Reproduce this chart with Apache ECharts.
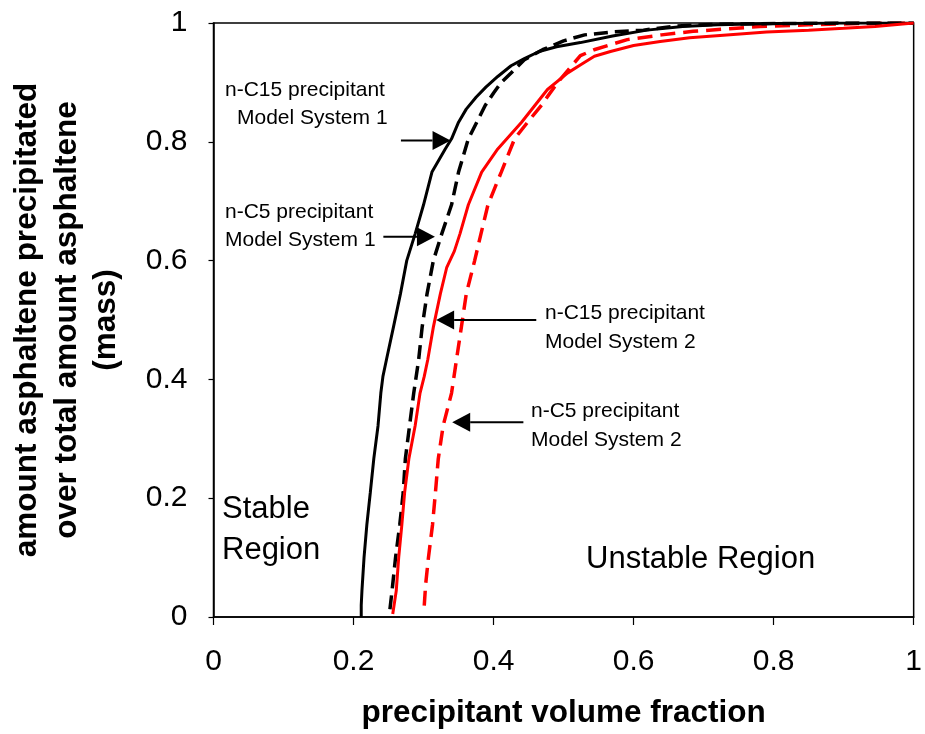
<!DOCTYPE html>
<html>
<head>
<meta charset="utf-8">
<script src="https://cdn.jsdelivr.net/npm/echarts@6/dist/echarts.min.js"></script>
<style>
  html, body { margin: 0; padding: 0; background: #fff; }
  #chart { width: 925px; height: 734px; }
</style>
</head>
<body>
<div id="chart"></div>
<script>
// Asphaltene precipitation curves: fraction precipitated vs. precipitant volume fraction

// n-C15 precipitant, Model System 1 (black solid)
const c15ms1X = [0.211, 0.211, 0.212, 0.215, 0.219, 0.224, 0.229, 0.235, 0.239, 0.242, 0.247, 0.257, 0.267, 0.276, 0.288, 0.300, 0.312, 0.331, 0.340, 0.350, 0.361, 0.375, 0.389, 0.406, 0.425, 0.444, 0.465, 0.490, 0.524, 0.570, 0.619, 0.670, 0.720, 0.800, 0.900, 1.000];
const c15ms1Y = [0.000, 0.020, 0.044, 0.100, 0.155, 0.210, 0.267, 0.322, 0.377, 0.405, 0.433, 0.488, 0.544, 0.600, 0.645, 0.694, 0.749, 0.788, 0.805, 0.833, 0.855, 0.875, 0.892, 0.910, 0.928, 0.940, 0.952, 0.960, 0.967, 0.978, 0.988, 0.994, 0.997, 0.999, 1.000, 1.000];

// n-C5 precipitant, Model System 1 (black dashed)
const c5ms1X = [0.252, 0.255, 0.260, 0.266, 0.271, 0.274, 0.280, 0.286, 0.293, 0.298, 0.305, 0.314, 0.326, 0.340, 0.350, 0.364, 0.376, 0.388, 0.400, 0.411, 0.425, 0.444, 0.470, 0.500, 0.530, 0.570, 0.614, 0.660, 0.720, 0.800, 0.900, 1.000];
const c5ms1Y = [0.013, 0.044, 0.100, 0.155, 0.210, 0.266, 0.322, 0.377, 0.433, 0.488, 0.544, 0.600, 0.645, 0.694, 0.749, 0.805, 0.833, 0.861, 0.882, 0.900, 0.916, 0.938, 0.955, 0.970, 0.980, 0.985, 0.988, 0.995, 0.998, 0.999, 1.000, 1.000];

// n-C15 precipitant, Model System 2 (red solid)
const c15ms2X = [0.256, 0.261, 0.2645, 0.269, 0.273, 0.279, 0.288, 0.295, 0.301, 0.306, 0.314, 0.324, 0.333, 0.344, 0.352, 0.364, 0.383, 0.406, 0.440, 0.477, 0.506, 0.525, 0.544, 0.567, 0.600, 0.638, 0.680, 0.733, 0.790, 0.850, 0.900, 0.945, 1.000];
const c15ms2Y = [0.005, 0.044, 0.100, 0.155, 0.210, 0.266, 0.322, 0.377, 0.405, 0.433, 0.488, 0.544, 0.588, 0.616, 0.645, 0.694, 0.749, 0.788, 0.833, 0.888, 0.916, 0.930, 0.944, 0.952, 0.962, 0.969, 0.975, 0.980, 0.985, 0.988, 0.991, 0.994, 1.000];

// n-C5 precipitant, Model System 2 (red dashed)
const c5ms2X = [0.301, 0.303, 0.307, 0.3128, 0.317, 0.321, 0.328, 0.340, 0.347, 0.354, 0.361, 0.373, 0.382, 0.392, 0.411, 0.430, 0.450, 0.468, 0.4915, 0.524, 0.5435, 0.591, 0.640, 0.685, 0.780, 0.850, 0.920, 1.000];
const c5ms2Y = [0.019, 0.055, 0.100, 0.155, 0.210, 0.266, 0.322, 0.377, 0.433, 0.488, 0.544, 0.600, 0.645, 0.694, 0.749, 0.805, 0.835, 0.861, 0.900, 0.945, 0.955, 0.972, 0.980, 0.986, 0.994, 0.997, 0.999, 1.000];

// Axis ticks
const xTicks = [0, 0.2, 0.4, 0.6, 0.8, 1];
const yTicks = [0, 0.2, 0.4, 0.6, 0.8, 1];

// Arrow annotations: [tail x, tail y, tip x, tip y] in data units
const arrowC15ms1 = [0.2677, 0.802, 0.3386, 0.802];
const arrowC5ms1 = [0.2426, 0.640, 0.3163, 0.640];
const arrowC15ms2 = [0.4610, 0.500, 0.3180, 0.500];
const arrowC5ms2 = [0.4426, 0.328, 0.3409, 0.328];

const zip = (xs, ys) => xs.map((x, i) => [x, ys[i]]);

const chart = echarts.init(document.getElementById('chart'), null, { renderer: 'canvas' });

const FONT = "'Liberation Sans', Arial, Helvetica, sans-serif";
const tickFmt = v => String(Math.round(v * 10) / 10);

chart.setOption({
  animation: false,
  backgroundColor: '#fff',
  grid: {
    left: 213, right: 7, top: 23, bottom: 111,
    show: true, borderColor: '#000', borderWidth: 1.5, backgroundColor: 'transparent'
  },
  xAxis: {
    type: 'value',
    min: xTicks[0], max: xTicks[xTicks.length - 1], interval: 0.2,
    axisLine: { show: true, lineStyle: { color: '#000', width: 1.5 } },
    axisTick: { show: true, length: 8, lineStyle: { color: '#000', width: 1.2 } },
    splitLine: { show: false },
    axisLabel: { color: '#000', fontSize: 30, fontFamily: FONT, margin: 30, formatter: tickFmt },
    name: 'precipitant volume fraction',
    nameLocation: 'middle',
    nameGap: 80,
    nameTextStyle: { color: '#000', fontSize: 31.5, fontWeight: 'bold', fontFamily: FONT }
  },
  yAxis: {
    type: 'value',
    min: yTicks[0], max: yTicks[yTicks.length - 1], interval: 0.2,
    axisLine: { show: true, lineStyle: { color: '#000', width: 1.5 } },
    axisTick: { show: true, length: 5, lineStyle: { color: '#000', width: 1.2 } },
    splitLine: { show: false },
    axisLabel: { color: '#000', fontSize: 30, fontFamily: FONT, margin: 26, formatter: tickFmt },
    name: 'amount asphaltene precipitated\nover total amount asphaltene\n(mass)',
    nameLocation: 'middle',
    nameRotate: 90,
    nameGap: 87,
    nameTextStyle: { color: '#000', fontSize: 31.5, fontWeight: 'bold', fontFamily: FONT, lineHeight: 39.5, align: 'center' }
  },
  series: [
    { name: 'n-C15 Model System 1', type: 'line', data: zip(c15ms1X, c15ms1Y), showSymbol: false,
      lineStyle: { color: '#000', width: 3, type: 'solid' }, z: 4 },
    { name: 'n-C5 Model System 1', type: 'line', data: zip(c5ms1X, c5ms1Y), showSymbol: false,
      lineStyle: { color: '#000', width: 3.5, type: [14, 7] }, z: 3 },
    { name: 'n-C15 Model System 2', type: 'line', data: zip(c15ms2X, c15ms2Y), showSymbol: false,
      lineStyle: { color: '#ff0000', width: 3, type: 'solid' }, z: 5 },
    { name: 'n-C5 Model System 2', type: 'line', data: zip(c5ms2X, c5ms2Y), showSymbol: false,
      lineStyle: { color: '#ff0000', width: 3.5, type: [15, 8] }, z: 2 }
  ]
});

// Arrows and text labels drawn on top of the grid
function arrowGraphics(a) {
  const p0 = chart.convertToPixel({ gridIndex: 0 }, [a[0], a[1]]);
  const p1 = chart.convertToPixel({ gridIndex: 0 }, [a[2], a[3]]);
  const dir = Math.sign(p1[0] - p0[0]);
  const headLen = 18, headHalf = 9.5;
  const base = p1[0] - dir * headLen;
  return [
    { type: 'line', shape: { x1: p0[0], y1: p0[1], x2: base, y2: p1[1] },
      style: { stroke: '#000', lineWidth: 2 }, z: 100 },
    { type: 'polygon', shape: { points: [[p1[0], p1[1]], [base, p1[1] - headHalf], [base, p1[1] + headHalf]] },
      style: { fill: '#000' }, z: 100 }
  ];
}

function label(text, x, y, size) {
  return { type: 'text', x: x, y: y, z: 100,
    style: { text: text, fill: '#000', fontSize: size, fontFamily: FONT, textAlign: 'left', textVerticalAlign: 'middle' } };
}

chart.setOption({
  graphic: [].concat(
    arrowGraphics(arrowC15ms1),
    arrowGraphics(arrowC5ms1),
    arrowGraphics(arrowC15ms2),
    arrowGraphics(arrowC5ms2),
    [
      label('n-C15 precipitant', 225, 90, 21),
      label('Model System 1', 237, 118, 21),
      label('n-C5 precipitant', 225, 212, 21),
      label('Model System 1', 225, 240, 21),
      label('n-C15 precipitant', 545, 313, 21),
      label('Model System 2', 545, 342, 21),
      label('n-C5 precipitant', 531, 411, 21),
      label('Model System 2', 531, 440, 21),
      label('Stable', 222, 509, 31),
      label('Region', 222, 550, 31),
      label('Unstable Region', 586, 559, 31)
    ]
  )
});
</script>
</body>
</html>
